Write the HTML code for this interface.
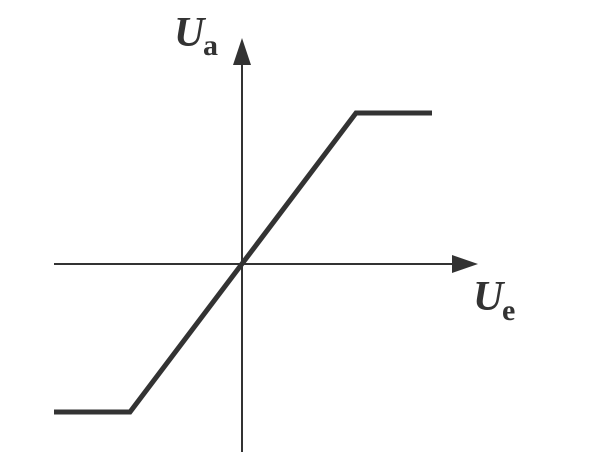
<!DOCTYPE html>
<html><head><style>body{margin:0;background:#fff}svg{display:block}</style></head><body>
<svg width="614" height="454" xmlns="http://www.w3.org/2000/svg">
<line x1="242" y1="60" x2="242" y2="452" stroke="#333" stroke-width="2"/>
<polygon points="242,38 233,65 251,65" fill="#333"/>
<line x1="54" y1="264" x2="455" y2="264" stroke="#333" stroke-width="2"/>
<polygon points="478,264 452,255 452,273" fill="#333"/>
<polyline points="54,412 130,412 356,113 432,113" fill="none" stroke="#333" stroke-width="5"/>
<text x="174" y="46" font-family="Liberation Serif, serif" font-style="italic" font-weight="bold" font-size="42" fill="#333">U</text>
<text x="203" y="55" font-family="Liberation Serif, serif" font-weight="bold" font-size="30" fill="#333">a</text>
<text x="473" y="310" font-family="Liberation Serif, serif" font-style="italic" font-weight="bold" font-size="42" fill="#333">U</text>
<text x="502" y="320" font-family="Liberation Serif, serif" font-weight="bold" font-size="30" fill="#333">e</text>
</svg>
</body></html>
